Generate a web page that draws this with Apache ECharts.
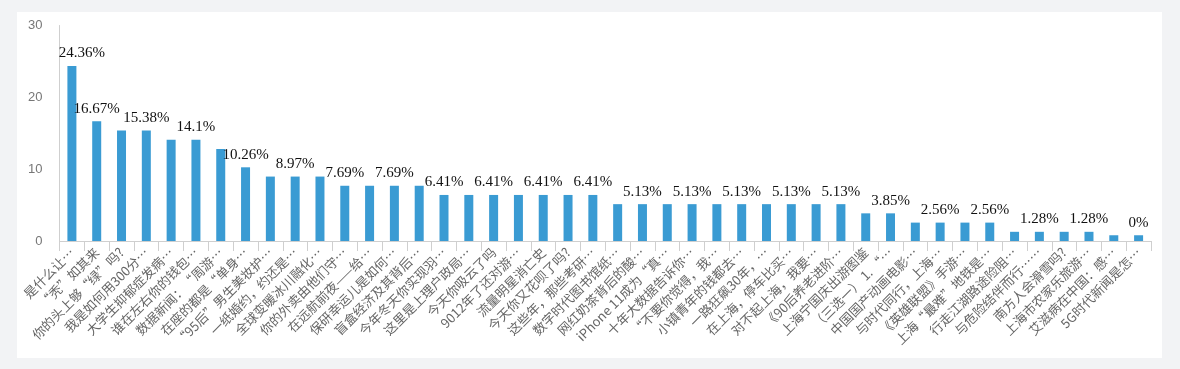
<!DOCTYPE html>
<html>
<head>
<meta charset="utf-8">
<script src="https://cdn.jsdelivr.net/npm/echarts@6/dist/echarts.min.js"></script>
<style>
  html, body { margin: 0; padding: 0; background: #f2f3f5; width: 1180px; height: 369px; overflow: hidden; }
  #card { position: absolute; left: 17px; top: 12px; width: 1145px; height: 346px; background: #ffffff; }
  #chart { position: absolute; left: 0; top: 0; width: 1180px; height: 369px; }
</style>
</head>
<body>
<div id="card"></div>
<div id="chart"></div>
<script>
const categories = [
  '是什么让…', '“秃”如其来', '你的头上够“绿”吗?', '我是如何用300分…', '大学生抑郁症发病…',
  '谁在左右你的钱包…', '数据新闻：“周游…', '在座的都是“单身…', '“95后”男生美妆护…', '一纸婚约，约还是…',
  '全球变暖冰川融化…', '你的外卖由他们守…', '在远航前夜——给…', '保研幸运儿是如何…', '盲盒经济及其背后…',
  '今年冬天你实现羽…', '这里是上理户政局…', '今天你吸云了吗', '9012年了还对游…', '流量明星消亡史',
  '今天你又花呗了吗?', '这些年，那些考研…', '数字时代图书馆纸…', '网红奶茶背后的酸…', 'iPhone 11成为“真…',
  '十年大数据告诉你…', '“不要你觉得，我…', '小镇青年的钱都去…', '一路狂飙30年，…', '在上海，停车比买…',
  '对不起上海，我要…', '《90后养老进阶…', '上海宁国庆出游图鉴', '（三选一） 1. “…', '中国国产动画电影…',
  '与时代同行，上海…', '《英雄联盟》手游…', '上海“最难”地铁是…', '行走江湖路途险阻…', '与危险结伴而行……',
  '南方人会滑雪吗?', '上海市农家乐旅游…', '艾滋病在中国：感…', '5G时代新闻是怎…'
];
const values = [
  24.36, 16.67, 15.38, 15.38, 14.1,
  14.1, 12.82, 10.26, 8.97, 8.97,
  8.97, 7.69, 7.69, 7.69, 7.69,
  6.41, 6.41, 6.41, 6.41, 6.41,
  6.41, 6.41, 5.13, 5.13, 5.13,
  5.13, 5.13, 5.13, 5.13, 5.13,
  5.13, 5.13, 3.85, 3.85, 2.56,
  2.56, 2.56, 2.56, 1.28, 1.28,
  1.28, 1.28, 0.8, 0.8
];
const valueLabels = [
  '24.36%', '16.67%', '', '15.38%', '',
  '14.1%', '', '10.26%', '', '8.97%',
  '', '7.69%', '', '7.69%', '',
  '6.41%', '', '6.41%', '', '6.41%',
  '', '6.41%', '', '5.13%', '',
  '5.13%', '', '5.13%', '', '5.13%',
  '', '5.13%', '', '3.85%', '',
  '2.56%', '', '2.56%', '', '1.28%',
  '', '1.28%', '', '0%'
];
const yTicks = { min: 0, max: 30, interval: 10 };

const chart = echarts.init(document.getElementById('chart'), null, { renderer: 'canvas' });
const data = values.map((v, i) => {
  const item = { value: v };
  if (i === 0) item.label = { offset: [10, 0] };
  return item;
});
chart.setOption({
  backgroundColor: 'transparent',
  animation: false,
  grid: { left: 59.5, right: 29, top: 25.5, bottom: 128, containLabel: false },
  xAxis: {
    type: 'category',
    data: categories,
    axisLine: { show: true, lineStyle: { color: '#cfcfcf', width: 1 } },
    axisTick: { show: true, alignWithLabel: false, length: 10, lineStyle: { color: '#cfcfcf' } },
    axisLabel: {
      interval: 0, rotate: 45, margin: 9,
      color: '#666', fontSize: 13,
      fontFamily: '"Noto Sans CJK SC", "Noto Sans", sans-serif'
    }
  },
  yAxis: {
    type: 'value',
    min: yTicks.min, max: yTicks.max, interval: yTicks.interval,
    axisLine: { show: true, lineStyle: { color: '#cfcfcf', width: 1 } },
    axisTick: { show: false },
    splitLine: { show: false },
    axisLabel: {
      color: '#777', fontSize: 13, margin: 17,
      fontFamily: '"Liberation Sans", Arial, sans-serif'
    }
  },
  series: [{
    type: 'bar',
    data: data,
    barWidth: 9,
    itemStyle: { color: '#3a9bd3' },
    label: {
      show: true,
      position: 'top',
      distance: 5,
      color: '#111',
      fontSize: 15,
      fontFamily: '"Liberation Serif", "Times New Roman", serif',
      formatter: p => valueLabels[p.dataIndex]
    }
  }]
});
</script>
</body>
</html>
